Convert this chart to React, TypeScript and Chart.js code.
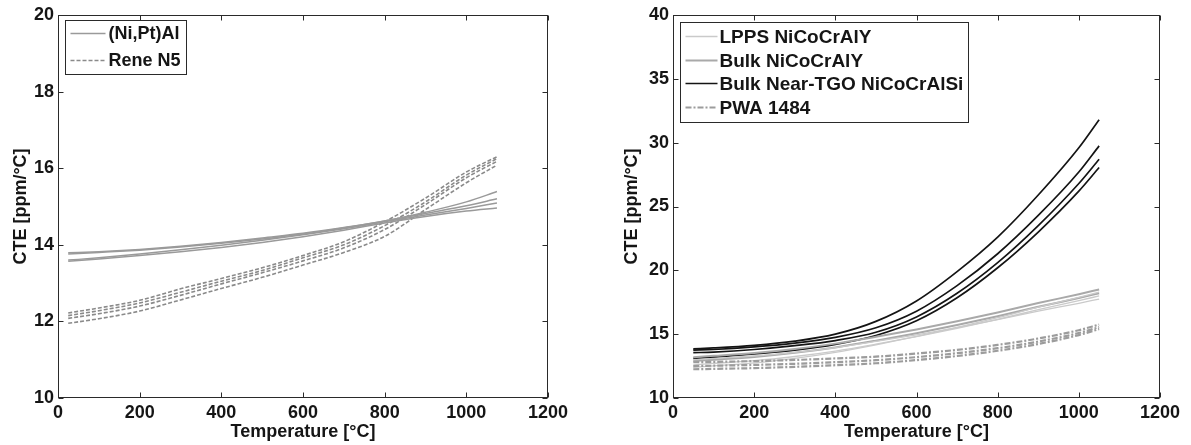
import React, { useEffect, useRef } from 'react';
import { Chart, registerables } from 'chart.js';

Chart.register(...registerables);

// ---------- Left panel data ----------
const leftTemps = [25, 100, 200, 300, 400, 500, 600, 700, 800, 900, 1000, 1075];
const niPtAl1 = [13.79, 13.82, 13.88, 13.96, 14.06, 14.18, 14.30, 14.45, 14.62, 14.85, 15.12, 15.39];
const niPtAl2 = [13.76, 13.80, 13.86, 13.94, 14.04, 14.15, 14.28, 14.44, 14.62, 14.82, 15.02, 15.20];
const niPtAl3 = [13.60, 13.66, 13.76, 13.87, 13.99, 14.12, 14.26, 14.42, 14.60, 14.78, 14.95, 15.09];
const niPtAl4 = [13.57, 13.63, 13.72, 13.82, 13.93, 14.06, 14.21, 14.38, 14.57, 14.74, 14.88, 14.96];
const reneN5_1 = [12.22, 12.35, 12.55, 12.85, 13.12, 13.40, 13.72, 14.08, 14.60, 15.22, 15.90, 16.30];
const reneN5_2 = [12.15, 12.28, 12.48, 12.76, 13.05, 13.33, 13.66, 14.00, 14.50, 15.12, 15.82, 16.25];
const reneN5_3 = [12.08, 12.20, 12.40, 12.68, 12.98, 13.27, 13.58, 13.92, 14.40, 15.05, 15.75, 16.18];
const reneN5_4 = [11.95, 12.07, 12.27, 12.56, 12.86, 13.15, 13.47, 13.80, 14.22, 14.92, 15.62, 16.08];

// ---------- Right panel data ----------
const rightTemps = [50, 100, 200, 300, 400, 500, 600, 700, 800, 900, 1000, 1050];
const lpps1 = [13.00, 13.10, 13.29, 13.57, 13.95, 14.43, 14.95, 15.52, 16.14, 16.80, 17.42, 17.75];
const lpps2 = [12.60, 12.71, 12.92, 13.25, 13.68, 14.22, 14.81, 15.46, 16.16, 16.92, 17.62, 18.00];
const lpps3 = [12.40, 12.52, 12.75, 13.11, 13.58, 14.17, 14.82, 15.53, 16.29, 17.12, 17.89, 18.30];
const bulk1 = [13.20, 13.30, 13.52, 13.84, 14.26, 14.79, 15.37, 16.01, 16.70, 17.44, 18.13, 18.50];
const bulk2 = [12.90, 13.00, 13.22, 13.54, 13.96, 14.49, 15.07, 15.71, 16.40, 17.14, 17.83, 18.20];
const nearTgo1 = [13.85, 13.92, 14.12, 14.45, 15.00, 16.00, 17.60, 19.90, 22.60, 25.90, 29.60, 31.80];
const nearTgo2 = [13.75, 13.80, 14.00, 14.30, 14.75, 15.50, 16.80, 18.80, 21.30, 24.30, 27.70, 29.75];
const nearTgo3 = [13.55, 13.60, 13.80, 14.10, 14.50, 15.15, 16.35, 18.20, 20.60, 23.50, 26.80, 28.70];
const nearTgo4 = [13.10, 13.20, 13.45, 13.75, 14.20, 14.90, 16.05, 17.85, 20.20, 23.00, 26.20, 28.05];
const pwa1 = [12.80, 12.83, 12.89, 12.98, 13.10, 13.24, 13.48, 13.77, 14.16, 14.66, 15.31, 15.75];
const pwa2 = [12.50, 12.53, 12.59, 12.68, 12.81, 12.96, 13.20, 13.51, 13.90, 14.42, 15.09, 15.55];
const pwa3 = [12.25, 12.28, 12.34, 12.44, 12.57, 12.72, 12.97, 13.29, 13.70, 14.23, 14.93, 15.40];

// ---------- Ticks / labels ----------
const xTicks = [0, 200, 400, 600, 800, 1000, 1200];
const leftYTicks = [10, 12, 14, 16, 18, 20];
const rightYTicks = [10, 15, 20, 25, 30, 35, 40];
const xTitle = 'Temperature [°C]';
const yTitle = 'CTE [ppm/°C]';
const leftLegend = ['(Ni,Pt)Al', 'Rene N5'];
const rightLegend = ['LPPS NiCoCrAlY', 'Bulk NiCoCrAlY', 'Bulk Near-TGO NiCoCrAlSi', 'PWA 1484'];

const FONT_FAMILY = '"Liberation Sans", Arial, Helvetica, sans-serif';

const toPts = (xs: number[], ys: number[]) => ys.map((y, i) => ({ x: xs[i], y }));

type Style = { color: string; width: number; dash: number[] };

const styleNi: Style = { color: '#9a9a9a', width: 1.5, dash: [] };
const styleRene: Style = { color: '#8a8a8a', width: 1.6, dash: [4, 2] };
const styleLpps: Style = { color: '#cacaca', width: 1.3, dash: [] };
const styleBulk: Style = { color: '#a9a9a9', width: 2, dash: [] };
const styleTgo: Style = { color: '#141414', width: 1.7, dash: [] };
const stylePwa: Style = { color: '#9c9c9c', width: 2.2, dash: [6, 2, 2, 2] };

const mkDs = (xs: number[], ys: number[], s: Style) => ({
  data: toPts(xs, ys),
  borderColor: s.color,
  backgroundColor: s.color,
  borderWidth: s.width,
  borderDash: s.dash,
  pointRadius: 0,
  fill: false,
  cubicInterpolationMode: 'monotone' as const,
});

const framePlugin = {
  id: 'frame',
  afterDatasetsDraw(chart: any) {
    const { ctx, chartArea } = chart;
    const { left, top, right, bottom } = chartArea;
    const xs = chart.scales.x;
    const ys = chart.scales.y;
    ctx.save();
    ctx.strokeStyle = '#2a2a2a';
    ctx.lineWidth = 1;
    ctx.setLineDash([]);
    const L = Math.round(left) + 0.5;
    const R = Math.round(right) - 0.5;
    const T = Math.round(top) + 0.5;
    const B = Math.round(bottom) - 0.5;
    ctx.strokeRect(L, T, R - L, B - T);
    const tl = 5;
    ctx.beginPath();
    xs.ticks.forEach((t: any) => {
      const px = Math.round(xs.getPixelForValue(t.value)) + 0.5;
      ctx.moveTo(px, B);
      ctx.lineTo(px, B - tl);
      ctx.moveTo(px, T);
      ctx.lineTo(px, T + tl);
    });
    ys.ticks.forEach((t: any) => {
      const py = Math.round(ys.getPixelForValue(t.value)) + 0.5;
      ctx.moveTo(L, py);
      ctx.lineTo(L + tl, py);
      ctx.moveTo(R, py);
      ctx.lineTo(R - tl, py);
    });
    ctx.stroke();
    ctx.restore();
  },
};

const boxLegendPlugin = {
  id: 'boxLegend',
  afterDraw(chart: any, _args: any, opts: any) {
    if (!opts || !opts.entries) return;
    const { ctx, chartArea } = chart;
    const bx = Math.round(chartArea.left + opts.dx) + 0.5;
    const by = Math.round(chartArea.top + opts.dy) + 0.5;
    ctx.save();
    ctx.fillStyle = '#ffffff';
    ctx.fillRect(bx, by, opts.w, opts.h);
    ctx.strokeStyle = '#2a2a2a';
    ctx.lineWidth = 1;
    ctx.setLineDash([]);
    ctx.strokeRect(bx, by, opts.w, opts.h);
    ctx.font = `bold ${opts.fontSize}px ${FONT_FAMILY}`;
    ctx.textBaseline = 'middle';
    ctx.textAlign = 'left';
    opts.entries.forEach((e: any, i: number) => {
      const y = by + opts.rows[i];
      ctx.save();
      ctx.strokeStyle = e.style.color;
      ctx.lineWidth = e.style.width;
      ctx.setLineDash(e.style.dash);
      ctx.beginPath();
      ctx.moveTo(bx + opts.sx0, y);
      ctx.lineTo(bx + opts.sx1, y);
      ctx.stroke();
      ctx.restore();
      ctx.fillStyle = '#151515';
      ctx.fillText(e.label, bx + opts.tx, y + 1);
    });
    ctx.restore();
  },
};

type PanelProps = {
  width: number;
  height: number;
  datasets: any[];
  yMin: number;
  yMax: number;
  yTicks: number[];
  yAxisWidth: number;
  yTitlePad: number;
  padRight: number;
  legend: any;
};

function Panel(p: PanelProps) {
  const ref = useRef<HTMLCanvasElement | null>(null);
  useEffect(() => {
    if (!ref.current) return;
    const tickFont = { family: FONT_FAMILY, size: 18, weight: 'bold' as const };
    const chart = new Chart(ref.current, {
      type: 'line',
      data: { datasets: p.datasets },
      plugins: [framePlugin, boxLegendPlugin],
      options: {
        responsive: false,
        animation: false,
        devicePixelRatio: 1,
        layout: { padding: { left: 0, top: 15, right: p.padRight, bottom: 0 } },
        plugins: {
          legend: { display: false },
          tooltip: { enabled: false },
          boxLegend: p.legend,
        } as any,
        scales: {
          x: {
            type: 'linear',
            min: 0,
            max: 1200,
            grid: { display: false, drawTicks: false },
            border: { display: false },
            afterBuildTicks: (s: any) => {
              s.ticks = xTicks.map((v) => ({ value: v }));
            },
            afterFit: (s: any) => {
              s.height = 47;
            },
            ticks: {
              font: tickFont,
              color: '#151515',
              padding: 4,
              maxRotation: 0,
              autoSkip: false,
              callback: (v: any) => String(v),
            },
            title: {
              display: true,
              text: xTitle,
              font: tickFont,
              color: '#151515',
              padding: { top: 0, bottom: 2 },
            },
          },
          y: {
            type: 'linear',
            min: p.yMin,
            max: p.yMax,
            grid: { display: false, drawTicks: false },
            border: { display: false },
            afterBuildTicks: (s: any) => {
              s.ticks = p.yTicks.map((v) => ({ value: v }));
            },
            afterFit: (s: any) => {
              s.width = p.yAxisWidth;
            },
            ticks: {
              font: tickFont,
              color: '#151515',
              padding: 4,
              autoSkip: false,
              callback: (v: any) => String(v),
            },
            title: {
              display: true,
              text: yTitle,
              font: tickFont,
              color: '#151515',
              padding: { top: p.yTitlePad, bottom: 0 },
            },
          },
        },
      },
    });
    return () => chart.destroy();
  }, []);
  return (
    <canvas
      ref={ref}
      width={p.width}
      height={p.height}
      style={{ width: p.width, height: p.height, display: 'block' }}
    />
  );
}

export default function App() {
  const leftDatasets = [
    mkDs(leftTemps, niPtAl1, styleNi),
    mkDs(leftTemps, niPtAl2, styleNi),
    mkDs(leftTemps, niPtAl3, styleNi),
    mkDs(leftTemps, niPtAl4, styleNi),
    mkDs(leftTemps, reneN5_1, styleRene),
    mkDs(leftTemps, reneN5_2, styleRene),
    mkDs(leftTemps, reneN5_3, styleRene),
    mkDs(leftTemps, reneN5_4, styleRene),
  ];
  const rightDatasets = [
    mkDs(rightTemps, pwa1, stylePwa),
    mkDs(rightTemps, pwa2, stylePwa),
    mkDs(rightTemps, pwa3, stylePwa),
    mkDs(rightTemps, lpps1, styleLpps),
    mkDs(rightTemps, lpps2, styleLpps),
    mkDs(rightTemps, lpps3, styleLpps),
    mkDs(rightTemps, bulk1, styleBulk),
    mkDs(rightTemps, bulk2, styleBulk),
    mkDs(rightTemps, nearTgo1, styleTgo),
    mkDs(rightTemps, nearTgo2, styleTgo),
    mkDs(rightTemps, nearTgo3, styleTgo),
    mkDs(rightTemps, nearTgo4, styleTgo),
  ];
  const leftLegendOpts = {
    dx: 7,
    dy: 5,
    w: 121,
    h: 54,
    rows: [13, 40],
    sx0: 5,
    sx1: 40,
    tx: 43,
    fontSize: 18,
    entries: [
      { label: leftLegend[0], style: styleNi },
      { label: leftLegend[1], style: styleRene },
    ],
  };
  const rightLegendOpts = {
    dx: 7,
    dy: 7,
    w: 288,
    h: 100,
    rows: [14, 38, 61, 85],
    sx0: 5,
    sx1: 37,
    tx: 39,
    fontSize: 19,
    entries: [
      { label: rightLegend[0], style: styleLpps },
      { label: rightLegend[1], style: styleBulk },
      { label: rightLegend[2], style: styleTgo },
      { label: rightLegend[3], style: stylePwa },
    ],
  };
  return (
    <div style={{ position: 'absolute', left: 0, top: 0, width: 1191, height: 445, background: '#ffffff', overflow: 'hidden' }}>
      <div style={{ position: 'absolute', left: 0, top: 0 }}>
        <Panel
          width={600}
          height={445}
          datasets={leftDatasets}
          yMin={10}
          yMax={20}
          yTicks={leftYTicks}
          yAxisWidth={58}
          yTitlePad={10}
          padRight={52}
          legend={leftLegendOpts}
        />
      </div>
      <div style={{ position: 'absolute', left: 600, top: 0 }}>
        <Panel
          width={591}
          height={445}
          datasets={rightDatasets}
          yMin={10}
          yMax={40}
          yTicks={rightYTicks}
          yAxisWidth={73}
          yTitlePad={21}
          padRight={31}
          legend={rightLegendOpts}
        />
      </div>
    </div>
  );
}
